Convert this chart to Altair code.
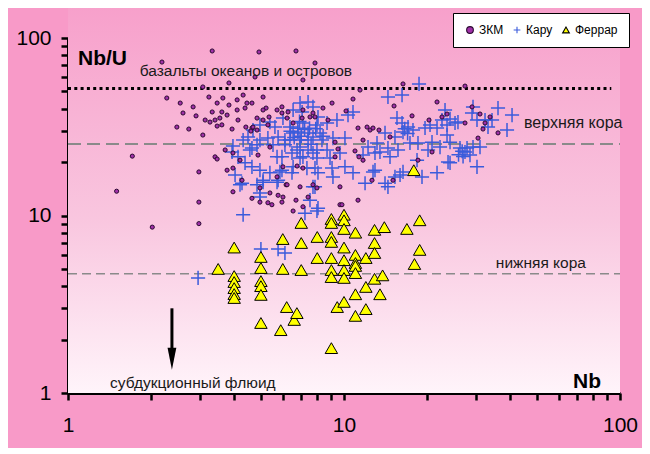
import altair as alt
import pandas as pd

# ---------------- data ----------------
zkm_nb = [3.33, 4.92, 6.70, 2.19, 7.85, 4.76, 7.10, 3.08, 3.83, 2.28, 2.55, 2.84, 3.24, 3.47, 3.64, 3.83,
          4.10, 4.31, 4.45, 4.10, 4.38, 2.61, 2.91, 3.33, 3.61, 3.77, 3.14, 3.27, 3.41, 3.55, 3.61, 3.47,
          4.13, 2.48, 2.74, 3.08, 3.93, 4.64, 4.84, 1.71, 3.41, 3.47, 2.98, 3.71, 3.96, 1.50, 2.98, 2.02,
          2.98, 4.64, 4.96, 5.30, 5.48, 5.39, 5.77, 5.96, 6.17, 6.70, 6.54, 7.10, 6.01, 3.96, 4.20, 3.77,
          3.96, 5.09, 4.64, 5.22, 5.96, 6.27, 4.84, 5.09, 5.35, 5.72, 5.96, 6.22, 6.54, 7.10, 7.72, 4.41,
          4.60, 8.39, 9.05, 10.17, 10.78, 7.05, 7.85, 8.75, 5.09, 11.24, 11.72, 9.51, 9.28, 6.76, 7.10, 6.01,
          5.39, 4.88, 5.72, 6.22, 6.93, 7.98, 9.67, 7.41, 9.67, 11.24, 11.43, 16.36, 27.44, 15.18, 21.73, 29.10,
          17.64, 22.65, 23.62, 31.10, 32.43, 33.81, 20.32, 27.44, 31.89, 36.14, 12.12, 12.43, 12.74, 13.39, 14.68, 30.59,
          20.84, 18.54, 12.63, 15.05, 10.96, 11.33, 11.72, 9.83, 9.28, 4.68, 5.30, 7.53, 7.72, 4.27, 4.96]
zkm_nbu = [84.5, 83.4, 84.5, 73.2, 72.3, 60.3, 58.0, 53.0, 55.8, 45.9, 43.0, 40.9, 46.5, 43.0, 45.9, 41.9,
           44.8, 47.7, 43.0, 39.3, 40.3, 37.8, 36.4, 38.3, 38.3, 36.8, 34.5, 33.6, 34.5, 35.4, 32.4, 31.9,
           34.5, 31.5, 30.7, 28.4, 30.7, 31.1, 30.3, 21.6, 21.4, 20.8, 17.6, 23.4, 18.5, 13.7, 11.9, 8.6,
           9.0, 12.5, 11.9, 11.8, 11.5, 13.4, 13.0, 11.9, 14.9, 12.2, 10.6, 11.2, 12.7, 13.6, 20.5, 18.0,
           22.5, 46.5, 43.0, 40.3, 40.9, 38.3, 35.4, 39.3, 35.9, 39.3, 37.8, 35.4, 33.2, 39.3, 37.8, 31.5,
           29.9, 40.3, 43.0, 38.8, 45.3, 35.4, 35.9, 34.5, 34.5, 31.1, 26.6, 23.7, 21.4, 19.0, 18.5, 18.8,
           24.3, 21.9, 16.5, 14.9, 14.5, 14.3, 14.5, 12.7, 11.5, 12.2, 50.9, 55.1, 53.6, 41.4, 43.6, 40.9,
           36.4, 35.9, 37.3, 37.3, 33.2, 35.9, 34.5, 33.2, 30.7, 29.2, 31.5, 30.3, 31.1, 30.3, 27.7, 27.3,
           22.8, 20.5, 15.8, 15.8, 23.1, 21.4, 20.5, 11.5, 25.9, 31.5, 32.4, 35.9, 14.9, 15.8, 14.3]

karoo_nb = [4.31, 3.96, 4.31, 4.49, 4.64, 4.13, 4.38, 4.64, 4.03, 4.27, 4.84, 4.56, 4.68, 4.96, 5.09, 4.84,
            4.20, 5.77, 5.96, 5.72, 5.53, 6.11, 6.93, 6.54, 7.05, 7.72, 8.05, 6.37, 6.54, 6.93, 7.41, 7.72,
            8.19, 6.76, 7.10, 7.72, 6.54, 7.34, 8.05, 7.72, 7.53, 8.05, 7.22, 5.39, 7.41, 10.78, 10.34, 6.01,
            5.39, 4.96, 5.62, 7.10, 7.98, 8.68, 9.43, 6.81, 7.41, 6.37, 5.77, 5.30, 4.96, 8.32, 9.12, 10.08,
            6.11, 6.93, 7.41, 7.98, 8.68, 6.48, 5.96, 6.93, 7.98, 8.90, 9.67, 10.08, 5.86, 6.48, 7.85, 9.05,
            9.12, 10.78, 11.92, 12.74, 12.22, 12.95, 11.72, 5.09, 5.72, 4.96, 7.85, 18.70, 14.43, 16.23, 23.23, 29.34,
            36.14, 40.63, 15.56, 16.23, 17.06, 17.78, 16.36, 19.66, 20.50, 22.65, 24.22, 25.25, 25.88, 23.62, 21.73, 29.10,
            30.33, 32.43, 34.38, 33.25, 38.96, 14.08, 15.30, 17.34, 18.54, 20.84, 22.28, 24.22, 23.62, 20.16, 26.32, 27.91,
            29.34, 31.10, 27.44, 28.61, 13.17, 13.50, 14.43, 15.69, 14.68, 12.95, 18.39, 23.82, 30.33, 21.73, 19.17, 15.96,
            14.08, 14.43, 15.30, 16.36, 24.22, 5.00, 5.77, 6.11, 7.98, 4.96, 2.96, 3.93, 6.80, 7.00, 6.60, 7.20,
            6.90, 7.50, 6.40, 7.90, 8.40, 7.60, 26.8, 26.0, 27.0, 17.0, 16.6]
karoo_nbu = [10.1, 24.6, 26.6, 27.7, 24.0, 21.4, 19.8, 18.8, 16.9, 15.2, 25.0, 23.4, 30.3, 18.0, 15.4, 14.9,
             14.9, 15.8, 18.0, 21.4, 25.0, 26.6, 43.0, 39.3, 38.3, 40.9, 35.9, 31.5, 29.2, 26.6, 26.6, 27.7,
             29.2, 23.4, 21.4, 22.5, 18.8, 18.5, 17.4, 14.5, 12.2, 11.0, 10.3, 17.4, 43.6, 38.3, 36.8, 35.4,
             33.6, 32.4, 31.5, 33.2, 32.4, 33.2, 34.5, 29.5, 29.2, 26.6, 27.7, 27.3, 26.6, 26.6, 27.3, 27.3,
             25.0, 24.3, 23.4, 23.4, 23.4, 22.5, 21.4, 21.1, 21.1, 21.1, 22.5, 18.8, 17.6, 17.4, 18.5, 18.5,
             16.5, 17.4, 15.2, 17.6, 24.3, 22.5, 21.9, 15.8, 15.4, 13.4, 14.5, 55.1, 46.5, 47.7, 39.3, 40.9,
             40.3, 36.8, 35.4, 33.2, 31.5, 30.3, 29.5, 31.1, 32.4, 34.5, 35.0, 33.2, 33.6, 32.4, 31.1, 37.8,
             34.5, 34.5, 34.5, 31.5, 30.3, 29.2, 27.7, 25.6, 25.6, 25.9, 24.3, 25.9, 28.4, 23.4, 24.0, 24.0,
             24.3, 24.3, 22.8, 21.9, 25.6, 22.8, 24.0, 23.4, 21.4, 18.0, 20.5, 20.0, 18.8, 17.4, 16.5, 16.9,
             15.2, 14.5, 16.5, 17.6, 19.8, 6.47, 6.47, 6.15, 10.6, 12.7, 4.45, 22.8, 31.0, 28.0, 27.5, 30.5,
             33.8, 31.0, 29.8, 30.8, 28.0, 25.2, 23.0, 22.0, 21.5, 29.0, 30.8]

ferrar_nb = [3.50, 4.0, 4.0, 4.0, 4.0, 4.0, 4.0, 5.0, 5.0, 5.0, 5.0, 5.0, 5.0, 6.0, 6.0, 5.9,
             6.2, 6.6, 6.75, 7.0, 7.0, 7.0, 8.0, 8.0, 9.0, 9.0, 9.0, 9.0, 9.0, 9.0, 9.0, 9.0,
             9.45, 10.0, 10.0, 10.0, 10.0, 10.0, 10.0, 10.0, 10.0, 11.0, 11.0, 11.0, 11.0, 11.0, 11.0, 11.0,
             12.0, 12.0, 12.0, 12.9, 12.9, 12.9, 12.9, 13.5, 13.8, 14.0, 16.9, 18.8, 18.8, 18.0, 17.9]
ferrar_nbu = [5.0, 6.6, 4.56, 4.22, 3.90, 3.61, 3.43, 5.84, 5.06, 4.27, 4.0, 3.57, 2.48, 7.37, 5.0, 2.26,
              3.05, 2.58, 2.82, 9.08, 7.0, 4.93, 7.57, 5.76, 9.56, 9.08, 7.57, 7.1, 5.76, 4.93, 4.5, 1.79,
              3.05, 10.1, 9.4, 8.4, 6.6, 5.6, 4.93, 4.45, 3.26, 8.0, 6.0, 5.4, 5.2, 4.74, 3.6, 2.72,
              5.76, 3.96, 2.97, 8.3, 7.0, 6.15, 4.4, 3.6, 4.6, 8.6, 8.4, 9.4, 6.4, 5.33, 18.0]

series_names = ["ЗКМ", "Кару", "Феррар"]

# reference levels
line_names = ["oib", "upper", "lower"]
line_nbu = [52, 25.3, 4.7]
line_x_start = [1, 1, 1]
line_x_end = [93, 100, 100]

# annotations
text_labels = ["базальты океанов и островов", "верхняя кора", "нижняя кора", "субдукционный флюид"]
text_x = [1.82, 44.9, 35.5, 1.42]
text_y = [65.2, 33.2, 5.4, 1.14]
text_size = [15.5, 16, 15.5, 15.5]

bold_labels = ["Nb/U", "Nb"]
bold_x = [1.087, 67.6]
bold_y = [76.2, 1.153]

arrow_x = [2.38]
arrow_top = [3.0]
arrow_bottom = [1.75]
arrow_head = [1.56]

# ---------------- tables ----------------
df_k = pd.DataFrame({"Nb": karoo_nb, "NbU": karoo_nbu, "series": "Кару"})
df_z = pd.DataFrame({"Nb": zkm_nb, "NbU": zkm_nbu, "series": "ЗКМ"})
df_f = pd.DataFrame({"Nb": ferrar_nb, "NbU": ferrar_nbu, "series": "Феррар"})

lines = pd.DataFrame({"name": line_names, "y": line_nbu, "x": line_x_start, "x2": line_x_end})
texts = pd.DataFrame({"t": text_labels, "x": text_x, "y": text_y, "fs": text_size})
btexts = pd.DataFrame({"t": bold_labels, "x": bold_x, "y": bold_y})
arrow = pd.DataFrame({"x": arrow_x, "y": arrow_top, "y2": arrow_bottom, "h": arrow_head})

W, H = 552, 355
FONT = "Liberation Sans, Arial, sans-serif"

ticks = [1, 2, 3, 4, 5, 6, 7, 8, 9, 10, 20, 30, 40, 50, 60, 70, 80, 90, 100]
lab = "datum.value == 1 || datum.value == 10 || datum.value == 100 ? format(datum.value, 'd') : ''"

xs = alt.Scale(type="log", domain=[1, 100], nice=False)
ys = alt.Scale(type="log", domain=[1, 100], nice=False)

axis_common = dict(values=ticks, labelExpr=lab, labelFontSize=21, labelFont=FONT, labelColor="black",
                   domainColor="black", domainWidth=3, tickColor="black", tickWidth=2.5, tickSize=7,
                   grid=False, title=None, labelFlush=False, labelOverlap=False)
x_axis = alt.Axis(labelPadding=14, **axis_common)
y_axis = alt.Axis(labelPadding=10, **axis_common)

bg = alt.Chart(pd.DataFrame({"a": [0]})).mark_rect(
    color=alt.LinearGradient(
        gradient="linear",
        stops=[alt.GradientStop(color="#F7A0CB", offset=0),
               alt.GradientStop(color="#F9C6DF", offset=0.55),
               alt.GradientStop(color="#FFF4FA", offset=1)],
        x1=0, x2=0, y1=0, y2=1)
).encode(x=alt.value(0), x2=alt.value(W), y=alt.value(-31), y2=alt.value(H))

def ref(name, dash, width, color):
    return alt.Chart(lines).transform_filter(alt.datum.name == name).mark_rule(
        strokeDash=dash, strokeWidth=width, color=color
    ).encode(x=alt.X("x:Q", scale=xs, axis=x_axis), x2="x2:Q",
             y=alt.Y("y:Q", scale=ys, axis=y_axis))

l1 = ref("oib", [3, 3.3], 3, "black")
l2 = ref("upper", [13, 6], 2, "#8a8a8a")
l3 = ref("lower", [9, 5], 1.6, "#8a8a8a")

leg = alt.Legend(title=None, orient="none", legendX=385, legendY=-25,
                 direction="horizontal", fillColor="white", strokeColor="black",
                 padding=11, labelFont=FONT, labelFontSize=12, labelColor="black",
                 symbolSize=45, columnPadding=7, labelOffset=3, symbolStrokeWidth=1.1)

plus_path = "M-1,0L1,0M0,-1L0,1"
fill_sc = alt.Scale(domain=series_names, range=["#A030A8", "transparent", "#FFFF00"])
stroke_sc = alt.Scale(domain=series_names, range=["#2A0830", "#3B5BDB", "black"])
shape_sc = alt.Scale(domain=series_names, range=["circle", plus_path, "triangle-up"])

def series_layer(df, size, sw):
    return alt.Chart(df).mark_point(filled=True, opacity=1, size=size, strokeWidth=sw).encode(
        x=alt.X("Nb:Q", scale=xs, axis=x_axis),
        y=alt.Y("NbU:Q", scale=ys, axis=y_axis),
        fill=alt.Fill("series:N", scale=fill_sc, legend=leg),
        stroke=alt.Stroke("series:N", scale=stroke_sc, legend=leg),
        shape=alt.Shape("series:N", scale=shape_sc, legend=leg),
    )

p_k = series_layer(df_k, 200, 1.5)
p_z = series_layer(df_z, 17, 1.0)
p_f = series_layer(df_f, 155, 1.0)

txt = alt.Chart(texts).mark_text(align="left", baseline="middle", font=FONT, color="#1a1a1a").encode(
    x=alt.X("x:Q", scale=xs), y=alt.Y("y:Q", scale=ys), text="t:N", size=alt.Size("fs:Q", scale=None))

btxt = alt.Chart(btexts).mark_text(align="left", baseline="middle", font=FONT, fontSize=21,
                                   fontWeight="bold", color="black").encode(
    x=alt.X("x:Q", scale=xs), y=alt.Y("y:Q", scale=ys), text="t:N")

shaft = alt.Chart(arrow).mark_rule(strokeWidth=3, color="black").encode(
    x=alt.X("x:Q", scale=xs), y=alt.Y("y:Q", scale=ys), y2="y2:Q")
head = alt.Chart(arrow).mark_point(shape="M-0.4,-1L0.4,-1L0,1Z", size=484, filled=True,
                                   color="black", opacity=1).encode(
    x=alt.X("x:Q", scale=xs), y=alt.Y("h:Q", scale=ys))

chart = alt.layer(bg, l1, l2, l3, p_k, p_z, p_f, txt, btxt, shaft, head).properties(
    width=W, height=H,
    padding={"left": 60, "top": 30, "right": 22, "bottom": 55},
    autosize="none",
).configure(background="#F89AC8").configure_view(stroke=None)

chart.save("out.html", embed_options={"renderer": "svg", "actions": False})
